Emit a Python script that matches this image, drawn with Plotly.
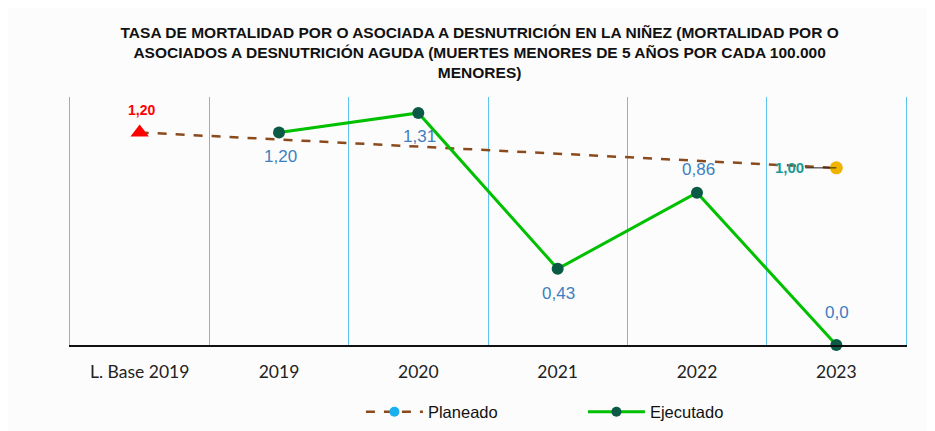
import plotly.graph_objects as go

categories = ["L. Base 2019", "2019", "2020", "2021", "2022", "2023"]
ejecutado_x = ["2019", "2020", "2021", "2022", "2023"]
ejecutado = [1.20, 1.31, 0.43, 0.86, 0.0]
ejecutado_labels = ["1,20", "1,31", "0,43", "0,86", "0,0"]
ejecutado_label_shift = [-24, -24, -25, 23, 33]  # px offset of labels from points
planeado = [1.20, None, None, None, None, 1.00]
planeado_labels = ["1,20", "", "", "", "", "1,00"]

fig = go.Figure()

# Planeado line (dashed, markers at endpoints)
fig.add_trace(go.Scatter(
    x=categories, y=planeado, mode="lines+markers", connectgaps=True,
    line=dict(color="#8B4A1C", width=2.5, dash="dash"),
    marker=dict(symbol=["triangle-up", "circle", "circle", "circle", "circle", "circle"],
                color=["#FF0000", "#F0B400", "#F0B400", "#F0B400", "#F0B400", "#F0B400"],
                size=[16, 0, 0, 0, 0, 13], opacity=1, line=dict(width=0)),
    showlegend=False, hoverinfo="skip"))

# Ejecutado
fig.add_trace(go.Scatter(
    x=ejecutado_x, y=ejecutado, mode="lines+markers",
    line=dict(color="#00C000", width=3),
    marker=dict(color="#0B5A45", size=12),
    cliponaxis=False,
    name="Ejecutado", showlegend=False))

for xv, yv, lab, sh in zip(ejecutado_x, ejecutado, ejecutado_labels, ejecutado_label_shift):
    fig.add_annotation(x=categories.index(xv), y=yv, text=lab, showarrow=False,
                       yshift=sh, xshift=1,
                       font=dict(family="Arial, Liberation Sans", size=17, color="#3D7FC1"))

# legend entries
fig.add_trace(go.Scatter(
    x=[None], y=[None], mode="lines+markers", name="Planeado",
    line=dict(color="#8B4A1C", width=2.5, dash="dash"),
    marker=dict(color="#1AB0F0", size=10)))
fig.add_trace(go.Scatter(
    x=[None], y=[None], mode="lines+markers", name="Ejecutado",
    line=dict(color="#00C000", width=3),
    marker=dict(color="#0B5A45", size=10)))

# Planeado annotations
fig.add_annotation(x=0, y=planeado[0], text="<b>" + planeado_labels[0] + "</b>",
                   showarrow=False, yshift=22, xshift=2,
                   font=dict(family="Arial, Liberation Sans", size=14, color="#FF0000"))
fig.add_annotation(x=5, y=planeado[5], text="<b>" + planeado_labels[5] + "</b>",
                   showarrow=True, arrowhead=0, arrowwidth=1, arrowcolor="#222222",
                   ax=-47, ay=0, standoff=0,
                   font=dict(family="Arial, Liberation Sans", size=15, color="#1A9A94"))

title_text = ("<b>TASA DE MORTALIDAD POR O ASOCIADA A DESNUTRICIÓN EN LA NIÑEZ (MORTALIDAD POR O<br>"
              "ASOCIADOS A DESNUTRICIÓN AGUDA (MUERTES MENORES DE 5 AÑOS POR CADA 100.000<br>"
              "MENORES)</b>")

fig.update_layout(
    width=919, height=423,
    margin=dict(l=62, r=21, t=89, b=86, autoexpand=False),
    paper_bgcolor="#FCFCFC", plot_bgcolor="#FCFCFC",
    title=dict(text=title_text, x=0.49, xanchor="center", xref="paper",
               y=0.93, yanchor="top", yref="container",
               font=dict(family="Arial, Liberation Sans", size=15.5, color="#111111")),
    legend=dict(orientation="h", x=0.348, xanchor="left", y=-0.27, yanchor="middle",
                font=dict(family="Arial, Liberation Sans", size=16.5, color="#111111"),
                itemwidth=57, entrywidth=150, bgcolor="rgba(0,0,0,0)"),
    xaxis=dict(type="category", categoryorder="array", categoryarray=categories,
               range=[-0.5, 5.5], tickson="boundaries", showgrid=True,
               gridcolor="#5CC4EE", gridwidth=1, ticks="", showline=True,
               linecolor="#111111", linewidth=2, mirror=False,
               tickfont=dict(family="Lato, Carlito, Calibri", size=17.5, color="#222222"),
               ticklabelstandoff=10, fixedrange=True),
    yaxis=dict(range=[0, 1.4], showgrid=False, showticklabels=False, zeroline=False,
               showline=True, mirror=True, linecolor="#5CC4EE", linewidth=1,
               fixedrange=True),
)

fig.write_html("out.html")
